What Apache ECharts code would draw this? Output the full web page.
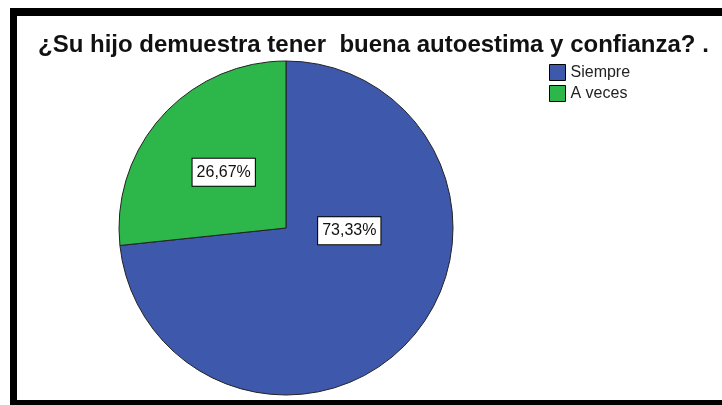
<!DOCTYPE html>
<html lang="es">

<head>
    <meta charset="UTF-8">
    <title>Autoestima y confianza</title>
    <style>
        body { margin: 0; background: #fff; }
        #chart { position: absolute; left: 0; top: 0; width: 722px; height: 405px; }
        #frame {
            position: absolute; left: 10px; top: 8px; width: 800px; height: 397px;
            box-sizing: border-box; pointer-events: none;
            border-top: 8px solid #000; border-left: 7px solid #000; border-bottom: 5px solid #000;
        }
    </style>
</head>

<body>
    <div id="chart"></div>
    <div id="frame"></div>
    <script src="https://cdn.jsdelivr.net/npm/echarts@6/dist/echarts.min.js"></script>
    <script>
        // datos
        var categorias = ['Siempre', 'A veces']
        var porcentajes = [73.33, 26.67]
        var colores = ['#3e58ab', '#2db649']

        var chart = echarts.init(document.getElementById('chart'))

        var datos = categorias.map(function (c, i) {
            var d = { name: c, value: porcentajes[i], itemStyle: { color: colores[i] } }
            // SPSS pone la etiqueta grande casi a la altura del centro
            if (i == 0) d.label = { offset: [-1, -55] }
            else d.label = { offset: [2, 2] }
            return d
        })

        var option = {
            animation: false,
            title: {
                text: '¿Su hijo demuestra tener  buena autoestima y confianza? .',
                left: 38,
                top: 33,
                padding: 0,
                textStyle: { fontFamily: 'Liberation Sans', fontSize: 24, fontWeight: 'bold', color: '#111' }
            },
            legend: {
                orient: 'vertical',
                left: 549,
                top: 64,
                padding: 0,
                icon: 'rect',
                itemWidth: 16,
                itemHeight: 16,
                itemGap: 4,
                itemStyle: { borderColor: '#000', borderWidth: 1 },
                textStyle: { fontFamily: 'Liberation Sans', fontSize: 16, color: '#222' },
                data: categorias
            },
            series: [{
                type: 'pie',
                center: [286, 228],
                radius: 167,
                startAngle: 90,
                clockwise: true,
                itemStyle: { borderColor: '#222', borderWidth: 1 },
                label: {
                    position: 'inside',
                    formatter: function (p) { return p.value.toFixed(2).replace('.', ',') + '%' },
                    fontFamily: 'Liberation Sans',
                    fontSize: 16,
                    color: '#111',
                    backgroundColor: '#fff',
                    borderColor: '#000',
                    borderWidth: 1,
                    padding: [6, 4, 5, 4]
                },
                labelLine: { show: false },
                emphasis: { disabled: true },
                data: datos
            }]
        }
        chart.setOption(option)
    </script>
</body>

</html>
